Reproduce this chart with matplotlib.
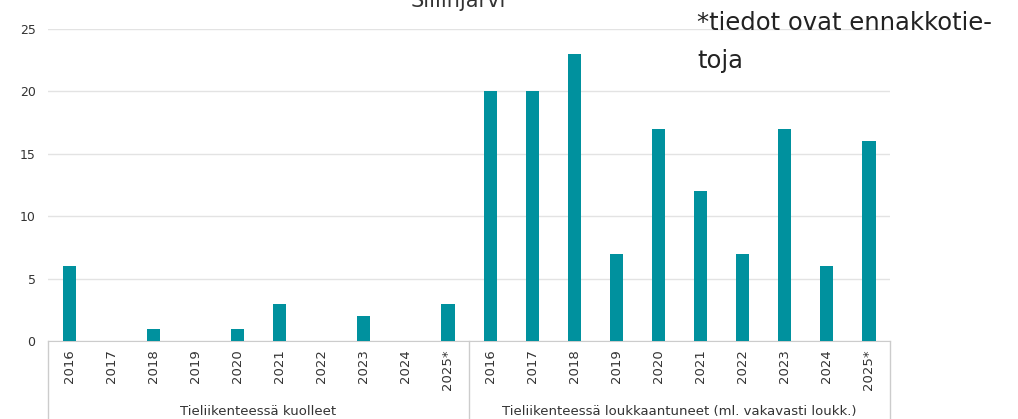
import matplotlib
matplotlib.use('Agg')
import matplotlib.pyplot as plt
import numpy as np

years = ['2016', '2017', '2018', '2019', '2020', '2021', '2022', '2023', '2024', '2025*']
groups = ['Tieliikenteessä kuolleet', 'Tieliikenteessä loukkaantuneet (ml. vakavasti loukk.)']
kuolleet = [6, 0, 1, 0, 1, 3, 0, 2, 0, 3]
loukkaantuneet = [20, 20, 23, 7, 17, 12, 7, 17, 6, 16]
title = 'Siilinjärvi'
note = '*tiedot ovat ennakkotie-\ntoja'

values = kuolleet + loukkaantuneet
labels = years + years
x = np.arange(len(values))

fig = plt.figure(figsize=(10.18, 4.19), dpi=100)
ax = fig.add_axes([0.0472, 0.1862, 0.8271, 0.7446])

ax.bar(x, values, width=0.31, color='#00919E', zorder=3)
ax.set_xlim(-0.5, len(values) - 0.5)
ax.set_ylim(0, 25)
ax.set_yticks([0, 5, 10, 15, 20, 25])
ax.yaxis.grid(True, color='#e3e3e3', linewidth=1, zorder=0)
for s in ['top', 'right', 'left']:
    ax.spines[s].set_visible(False)
ax.spines['bottom'].set_color('#cccccc')
ax.tick_params(axis='y', length=0, labelsize=9, colors='#333333', pad=9)
ax.set_xticks(x)
ax.set_xticklabels(labels, rotation=90, fontsize=9.5, color='#333333')
ax.tick_params(axis='x', length=0, pad=6)

# group boxes under the axis
n = len(years)
for b in [-0.5, n - 0.5, 2 * n - 0.5]:
    ax.plot([b, b], [0, -7], color='#cccccc', linewidth=1, clip_on=False)
for i, g in enumerate(groups):
    ax.text(i * n + (n - 1) / 2, -5.65, g, ha='center', va='center',
            fontsize=9.5, color='#333333')

fig.text(458 / 1018, 1 - 7 / 419, title, ha='center', va='baseline',
         fontsize=15, color='#333333')
fig.text(697 / 1018, 1 - 11 / 419, note, ha='left', va='top',
         fontsize=17.5, color='#222222', linespacing=1.75)

fig.savefig('out.png', dpi=100)
